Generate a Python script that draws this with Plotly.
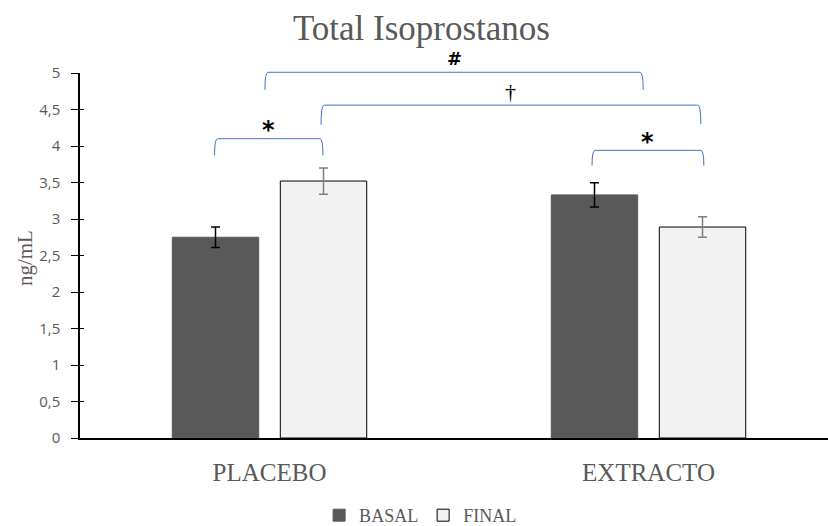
import plotly.graph_objects as go

categories = ["PLACEBO", "EXTRACTO"]
basal = [2.75, 3.33]
basal_err = [0.14, 0.165]
final = [3.52, 2.89]
final_err = [0.18, 0.14]
y_ticks = [0, 0.5, 1, 1.5, 2, 2.5, 3, 3.5, 4, 4.5, 5]
y_tick_labels = ["0", "0,5", "1", "1,5", "2", "2,5", "3", "3,5", "4", "4,5", "5"]

# significance brackets: (x_left, x_right, y_top, y_leg_left, y_leg_right, label, label_y)
brackets = [
    (-0.145, 0.141, 4.10, 3.87, 3.87, "*", 4.22),
    (-0.012, 0.986, 5.01, 4.77, 4.77, "#", 5.20),
    (0.136, 1.138, 4.56, 4.29, 4.30, "†", 4.74),
    (0.851, 1.146, 3.94, 3.73, 3.73, "*", 4.06),
]

XMIN, XMAX = -0.5, 1.4736
YMIN, YMAX = 0, 5

def px(x):
    return (x - XMIN) / (XMAX - XMIN)

def py(y):
    return (y - YMIN) / (YMAX - YMIN)

xs = list(range(len(categories)))
serif = "Liberation Serif"
grey = "#595959"

fig = go.Figure()
fig.add_trace(go.Bar(
    name="BASAL", x=xs, y=basal,
    marker=dict(color="#595959", line=dict(color="#595959", width=1)),
    error_y=dict(type="data", array=basal_err, color="black", thickness=1.5, width=4.5),
))
fig.add_trace(go.Bar(
    name="FINAL", x=xs, y=final,
    marker=dict(color="#F2F2F2", line=dict(color="black", width=1)),
    error_y=dict(type="data", array=final_err, color="#7F7F7F", thickness=1.5, width=4.5),
))
# invisible trace on an overlaid axis to draw the inner half of the y ticks
fig.add_trace(go.Scatter(x=[xs[0]], y=[basal[0]], yaxis="y2", mode="markers",
                         marker=dict(opacity=0), showlegend=False, hoverinfo="skip"))

shapes = []
annotations = []
for (x0, x1, yt, yl, yr, lab, ly) in brackets:
    path = (f"M {px(x0)} {py(yl)} Q {px(x0)} {py(yt)} {px(x0)+0.004} {py(yt)} "
            f"L {px(x1)-0.004} {py(yt)} Q {px(x1)} {py(yt)} {px(x1)} {py(yr)}")
    shapes.append(dict(type="path", xref="paper", yref="paper", path=path,
                       line=dict(color="#4472C4", width=1)))
    if lab == "*":
        font = dict(family="DejaVu Sans", size=24, color="black")
        text = "<b>*</b>"
    elif lab == "#":
        font = dict(family="DejaVu Sans", size=18, color="black")
        text = "<b>#</b>"
    else:
        font = dict(family=serif, size=22, color="black")
        text = lab
    annotations.append(dict(xref="paper", yref="paper", x=px((x0 + x1) / 2), y=py(ly),
                            xanchor="center", yanchor="middle",
                            text=text, showarrow=False, font=font))

annotations.append(dict(xref="paper", yref="paper", x=-0.0735, y=0.493,
                        xanchor="center", yanchor="middle", textangle=-90,
                        text="ng/mL", showarrow=False,
                        font=dict(family=serif, size=21, color=grey)))

fig.update_layout(
    width=828, height=526,
    margin=dict(l=80, r=0, t=73, b=88),
    paper_bgcolor="white", plot_bgcolor="white",
    barmode="group", bargap=0.43, bargroupgap=0.2,
    title=dict(text="Total Isoprostanos", x=0.509, xref="container", xanchor="center",
               y=0.947, yanchor="middle",
               font=dict(family=serif, size=35, color=grey)),
    showlegend=True,
    legend=dict(orientation="h", x=0.508, xref="container", xanchor="center",
                y=0.02, yref="container", yanchor="middle", itemwidth=30,
                font=dict(family=serif, size=18, color=grey), traceorder="normal"),
    shapes=shapes, annotations=annotations,
    yaxis2=dict(overlaying="y", side="left", range=[YMIN, YMAX], tickvals=y_ticks,
                showticklabels=False, ticks="inside", ticklen=4, tickcolor="black",
                showline=False, showgrid=False, zeroline=False, automargin=False),
)
fig.update_xaxes(range=[XMIN, XMAX], tickvals=xs, ticktext=categories, automargin=False,
                 showline=True, linecolor="black", linewidth=1.5, showgrid=False,
                 ticks="", ticklabelstandoff=11,
                 tickfont=dict(family=serif, size=25, color=grey), zeroline=False)
fig.update_yaxes(selector=dict(anchor="x"), overwrite=False)
fig.layout.yaxis.update(range=[YMIN, YMAX], tickvals=y_ticks, ticktext=y_tick_labels, automargin=False,
                        showline=True, linecolor="black", linewidth=1.5,
                        showgrid=False, ticks="outside", ticklen=7, tickcolor="black",
                        ticklabelstandoff=8,
                        tickfont=dict(family="Open Sans", size=15, color=grey),
                        zeroline=False)

fig.write_html("out.html", config={"displayModeBar": False},
               post_script="document.body.style.margin='0';")
